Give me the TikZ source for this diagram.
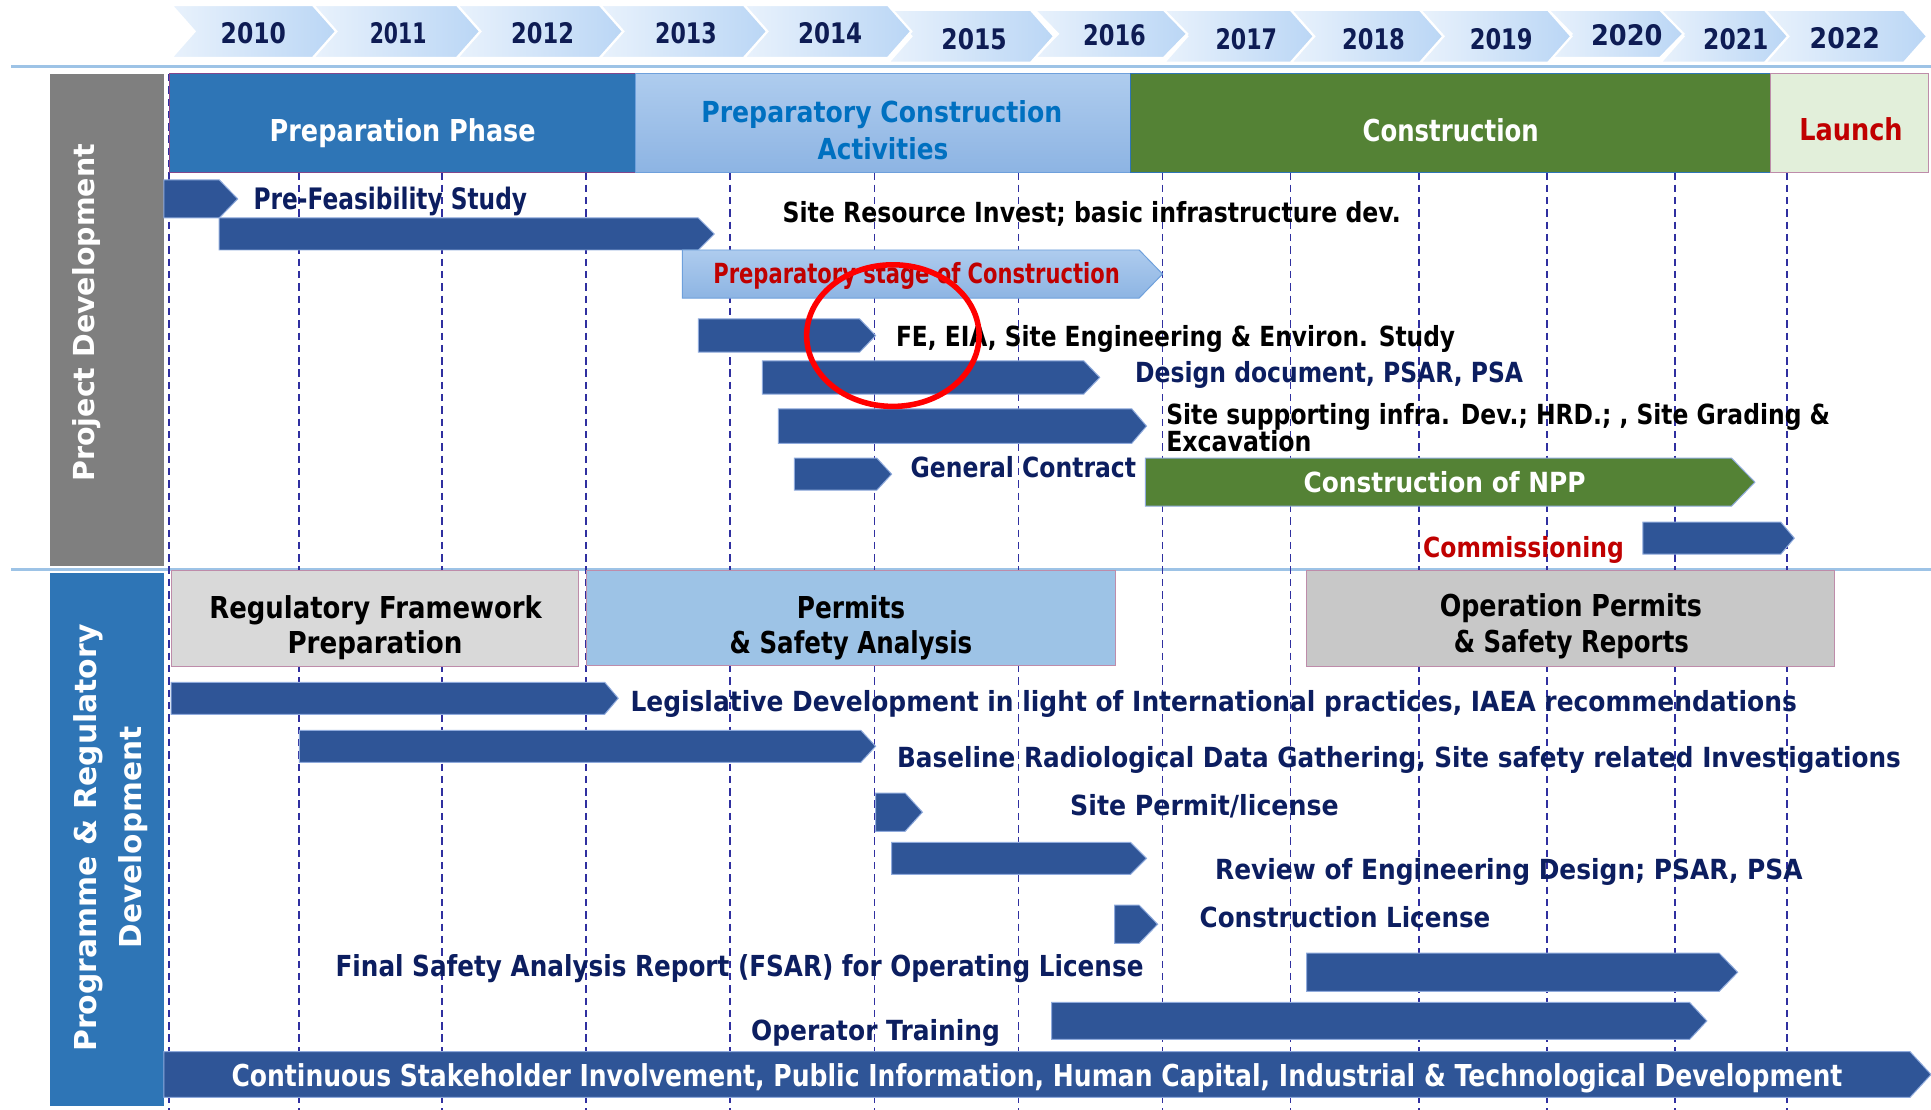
\documentclass[tikz,border=0pt]{standalone}
\usepackage{fontspec}
\setmainfont{DejaVu Sans}
\usepackage{graphicx}
\definecolor{barblue}{RGB}{47,85,151}
\definecolor{barline}{RGB}{143,170,220}
\definecolor{navytxt}{RGB}{12,30,96}
\definecolor{yeartxt}{RGB}{14,28,84}
\definecolor{redtxt}{RGB}{192,0,0}
\definecolor{midblue}{RGB}{46,117,182}
\definecolor{pcablue}{RGB}{0,112,192}
\definecolor{greenfill}{RGB}{84,130,53}
\definecolor{launchfill}{RGB}{226,239,218}
\definecolor{pinkline}{RGB}{190,140,170}
\definecolor{purpline}{RGB}{130,70,140}
\definecolor{greyA}{RGB}{217,217,217}
\definecolor{greyB}{RGB}{200,200,200}
\definecolor{permfill}{RGB}{157,195,230}
\definecolor{sidegrey}{RGB}{127,127,127}
\definecolor{sepline}{RGB}{157,195,230}
\definecolor{gridline}{RGB}{48,48,160}
\definecolor{chevL}{RGB}{233,242,252}
\definecolor{chevR}{RGB}{186,214,245}
\definecolor{lbtop}{RGB}{174,204,238}
\definecolor{lbbot}{RGB}{141,180,227}
\definecolor{pcaline}{RGB}{110,160,220}
\newcommand{\fw}[2]{\resizebox{#1pt}{\height}{#2}}
\newcommand{\gbar}[6][]{\path[#1] (#2,#4) -- (#3-#6,#4) -- (#3,{(#4+#5)/2}) -- (#3-#6,#5) -- (#2,#5) -- cycle;}
\newcommand{\chev}[4]{\path[chevstyle] (#1,#3) -- (#2,#3) -- (#2+19,{(#3+#4)/2}) -- (#2,#4) -- (#1,#4) -- (#1+19,{(#3+#4)/2}) -- cycle;}
\tikzset{
  chevstyle/.style={left color=chevL, right color=chevR, draw=white, line width=1.8pt},
  darkbar/.style={fill=barblue, draw=barline, line width=0.8pt},
  lightbar/.style={top color=lbtop, bottom color=lbbot, draw=pcaline, line width=0.8pt},
  greenbar/.style={fill=greenfill, draw=barline, line width=0.8pt},
  gridstyle/.style={draw=gridline, line width=1.4pt, dash pattern=on 6pt off 4pt},
  sepstyle/.style={draw=sepline, line width=1.8pt},
  yr/.style={font=\fontsize{23}{27}\selectfont\bfseries, text=yeartxt, anchor=base},
  lab/.style={font=\fontsize{22.5}{26}\selectfont\bfseries, anchor=base west},
  labc/.style={font=\fontsize{22.5}{26}\selectfont\bfseries, anchor=base},
  head/.style={font=\fontsize{24.5}{28}\selectfont\bfseries, anchor=base},
  side/.style={text=white, rotate=90, anchor=base},
}
\begin{document}
\begin{tikzpicture}[x=1pt,y=-1pt, every node/.style={inner sep=0pt, outer sep=0pt}]
\useasboundingbox (0,0) rectangle (1568,901);
\fill[white] (0,0) rectangle (1568,901);

% year chevrons
\chev{1433}{1546}{8}{51}
\chev{1348}{1433}{8}{51}
\chev{1257}{1348}{8}{47}
\chev{1153}{1257}{8}{51}
\chev{1048}{1153}{8}{51}
\chev{945}{1048}{8}{51}
\chev{840}{945}{8}{47}
\chev{721}{837}{8}{51}
\chev{604}{721}{4}{47}
\chev{487}{604}{4}{47}
\chev{371}{487}{4}{47}
\chev{254}{371}{4}{47}
\chev{139}{254}{4}{47}

\node[yr] (y2010) at (205.7,35.5) {\fw{53}{2010}};
\node[yr] (y2011) at (323.3,35.5) {\fw{46}{2011}};
\node[yr] (y2012) at (440.6,35.5) {\fw{51}{2012}};
\node[yr] (y2013) at (557,35.5) {\fw{50}{2013}};
\node[yr] (y2014) at (674,35.5) {\fw{52}{2014}};
\node[yr] (y2015) at (791,39.8) {\fw{53}{2015}};
\node[yr] (y2016) at (905,37) {\fw{51}{2016}};
\node[yr] (y2017) at (1012,40.5) {\fw{50}{2017}};
\node[yr] (y2018) at (1115.3,40.5) {\fw{51}{2018}};
\node[yr] (y2019) at (1219,40.5) {\fw{51}{2019}};
\node[yr] (y2020) at (1321,37) {\fw{58}{2020}};
\node[yr] (y2021) at (1409.5,40.5) {\fw{53}{2021}};
\node[yr] (y2022) at (1498,39.5) {\fw{57}{2022}};

% separator lines
\draw[sepstyle] (9,54) -- (1568,54);
\draw[sepstyle] (9,462.5) -- (1568,462.5);

% vertical dashed grid
\foreach \gx in {137,243,359,476,593,710,827,944,1048,1152,1256,1360,1451}
  \draw[gridstyle] (\gx,60) -- (\gx,901);

% sidebars
\fill[sidegrey] (41,60) rectangle (133,460);
\fill[midblue] (41,465) rectangle (133,898);
\node[side, font=\fontsize{23.5}{27}\selectfont\bfseries] (sPD) at (76.5,254) {\fw{274}{Project Development}};
\node[side, font=\fontsize{24.5}{28}\selectfont\bfseries] (sPR1) at (78,680.5) {\fw{347}{Programme \& Regulatory}};
\node[side, font=\fontsize{24.5}{28}\selectfont\bfseries] (sPR2) at (115,680) {\fw{180}{Development}};

% phase boxes
\path[fill=midblue, draw=purpline, line width=0.8pt] (138,60) rectangle (516,140);
\path[top color=lbtop, bottom color=lbbot, draw=pcaline, line width=0.8pt] (516,60) rectangle (918,140);
\path[fill=greenfill, draw=midblue, line width=0.8pt] (918,60) rectangle (1438,140);
\path[fill=launchfill, draw=pinkline, line width=0.8pt] (1438,60) rectangle (1566,140);
\node[head, text=white] (hPrep) at (327,115) {\fw{216}{Preparation Phase}};
\node[head, text=pcablue, font=\fontsize{23.5}{27}\selectfont\bfseries] (hPCAa) at (716,99.5) {\fw{293}{Preparatory Construction}};
\node[head, text=pcablue, font=\fontsize{23.5}{27}\selectfont\bfseries] (hPCAb) at (717,129.5) {\fw{106}{Activities}};
\node[head, text=white] (hCon) at (1178,115) {\fw{143}{Construction}};
\node[head, text=redtxt] (hLaunch) at (1503,114) {\fw{84}{Launch}};

% project development bars
\gbar[darkbar]{133}{193}{146}{177}{15}
\gbar[darkbar]{178}{580}{177}{203}{13}
\gbar[lightbar]{554}{944}{203}{242}{19}
\gbar[darkbar]{567}{711}{259}{286}{13}
\gbar[darkbar]{619}{893}{293}{320}{13}
\gbar[darkbar]{632}{931}{332}{360}{12}
\gbar[darkbar]{645}{724}{372}{398}{12}
\gbar[greenbar]{930}{1425}{372}{411}{19}
\gbar[darkbar]{1334}{1457}{424}{450}{11}

\node[lab, text=navytxt, font=\fontsize{24}{28}\selectfont\bfseries] (tPFS) at (206,170) {\fw{222}{Pre-Feasibility Study}};
\node[lab, text=black] (tSRI) at (635.5,180.5) {\fw{502}{Site Resource Invest; basic infrastructure dev.}};
\node[labc, text=redtxt] (tPSC) at (744.3,230.5) {\fw{330}{Preparatory stage of Construction}};
\node[lab, text=black] (tFE) at (727.6,281.5) {\fw{454}{FE, EIA, Site Engineering \& Environ. Study}};
\node[lab, text=navytxt] (tDD) at (921.8,310.5) {\fw{315}{Design document, PSAR, PSA}};
\node[lab, text=black] (tSS1) at (947,344.5) {\fw{539}{Site supporting infra. Dev.; HRD.; , Site Grading \&}};
\node[lab, text=black] (tSS2) at (947,367) {\fw{118}{Excavation}};
\node[lab, text=navytxt] (tGC) at (739.5,387.5) {\fw{183}{General Contract}};
\node[labc, text=white] (tNPP) at (1173,400) {\fw{229}{Construction of NPP}};
\node[lab, anchor=base east, text=redtxt] (tCom) at (1318.6,452.5) {\fw{163}{Commissioning}};

% regulatory boxes
\path[fill=greyA, draw=pinkline, line width=0.8pt] (139,463) rectangle (470,541);
\path[fill=permfill, draw=pinkline, line width=0.8pt] (476,463) rectangle (906,540);
\path[fill=greyB, draw=pinkline, line width=0.8pt] (1061,463) rectangle (1490,541);
\node[head, text=black] (bRF1) at (305,502.5) {\fw{270}{Regulatory Framework}};
\node[head, text=black] (bRF2) at (304.5,531) {\fw{142}{Preparation}};
\node[head, text=black] (bPS1) at (691,502.5) {\fw{88}{Permits}};
\node[head, text=black] (bPS2) at (691,531) {\fw{197}{\& Safety Analysis}};
\node[head, text=black] (bOP1) at (1275.6,501) {\fw{213}{Operation Permits}};
\node[head, text=black] (bOP2) at (1276,530) {\fw{191}{\& Safety Reports}};

% programme bars
\gbar[darkbar]{139}{502}{554}{580}{11}
\gbar[darkbar]{243}{711}{593}{619}{12}
\gbar[darkbar]{711}{749}{644}{675}{14}
\gbar[darkbar]{724}{931}{684}{710}{13}
\gbar[darkbar]{905}{940}{735}{766}{15}
\gbar[darkbar]{1061}{1411}{774}{805}{15}
\gbar[darkbar]{854}{1386}{814}{844}{14}
\gbar[darkbar]{133}{1568}{854}{891}{17}

\node[lab, text=navytxt] (tLeg) at (512,578) {\fw{947}{Legislative Development in light of International practices, IAEA recommendations}};
\node[lab, text=navytxt] (tBas) at (728.5,623) {\fw{815}{Baseline Radiological Data Gathering, Site safety related Investigations}};
\node[lab, text=navytxt] (tSP) at (869,662.5) {\fw{218}{Site Permit/license}};
\node[lab, text=navytxt] (tRev) at (986.7,714) {\fw{477}{Review of Engineering Design; PSAR, PSA}};
\node[lab, text=navytxt] (tCL) at (974.2,753) {\fw{236}{Construction License}};
\node[lab, text=navytxt, font=\fontsize{23.5}{27}\selectfont\bfseries] (tFSAR) at (272.5,793) {\fw{656}{Final Safety Analysis Report (FSAR) for Operating License}};
\node[lab, text=navytxt] (tOT) at (610,844.5) {\fw{202}{Operator Training}};
\node[head, text=white] (tCont) at (842,882) {\fw{1308}{Continuous Stakeholder Involvement, Public Information, Human Capital, Industrial \& Technological Development}};

% highlight ellipse
\draw[red, line width=4.5pt] (725,272.5) ellipse [x radius=70, y radius=57.5];
\end{tikzpicture}
\end{document}
